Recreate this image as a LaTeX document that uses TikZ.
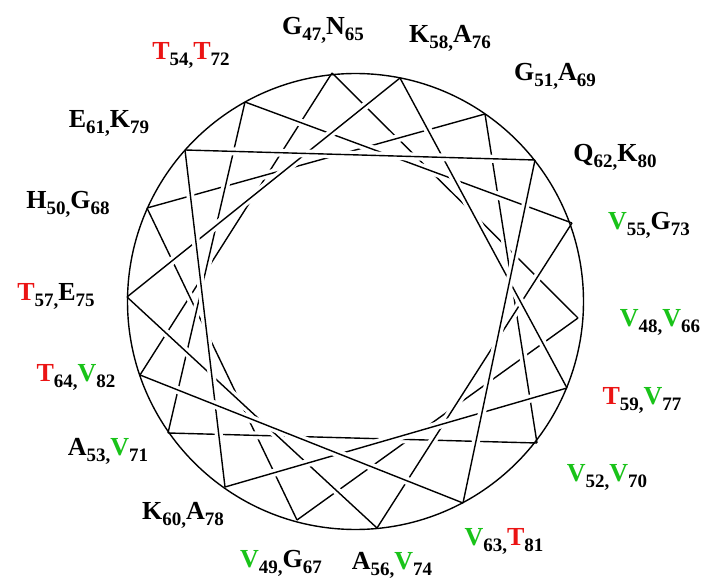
\documentclass[tikz,border=0pt]{standalone}
\usepackage{fontspec}
\setmainfont{Liberation Serif}
\usetikzlibrary{calc}
\definecolor{wred}{RGB}{235,20,20}
\definecolor{wgreen}{RGB}{25,195,25}
\newcommand{\rsd}[2]{#1\raisebox{-6pt}{\fontsize{19}{19}\selectfont #2}}
\newcommand{\Rd}[1]{\textcolor{wred}{#1}}
\newcommand{\Gr}[1]{\textcolor{wgreen}{#1}}
\tikzset{
  chord/.style={black, line width=1.4pt},
  halo/.style={white, line width=8pt},
  rim/.style={black, line width=1.4pt},
  lab/.style={inner sep=0pt, font=\fontsize{26}{26}\selectfont\bfseries}
}
\begin{document}
\begin{tikzpicture}[x=1pt,y=-1pt]
\useasboundingbox (0,0) rectangle (710,580);
\fill[white] (0,0) rectangle (710,580);
% wheel vertices
\coordinate (c) at (355.5,301.5);
\coordinate (p0) at (332,73);
\coordinate (p1) at (400,78);
\coordinate (p2) at (485,114);
\coordinate (p3) at (535,160);
\coordinate (p4) at (572,223);
\coordinate (p5) at (578,318);
\coordinate (p6) at (567,388);
\coordinate (p7) at (537,443);
\coordinate (p8) at (463,503);
\coordinate (p9) at (377,528);
\coordinate (p10) at (297,520);
\coordinate (p11) at (225,487);
\coordinate (p12) at (168,433);
\coordinate (p13) at (140,375);
\coordinate (p14) at (127,297);
\coordinate (p15) at (147,208);
\coordinate (p16) at (185,150);
\coordinate (p17) at (245,102);
% chords, later ones passing over earlier ones
\foreach \i/\j in {13/0,0/5,5/10,10/15,15/2,2/7,7/12,12/17,17/4,4/9,9/14,14/1,1/6,6/11,11/16,16/3,3/8,8/13}{
  \draw[halo] ($(p\i)!11pt!(p\j)$) -- ($(p\j)!11pt!(p\i)$);
  \draw[chord] (p\i) -- (p\j);
}
\draw[rim] (c) circle[radius=228pt];
% labels
\node[lab] (l47) at (323,30) {\rsd{G}{47,}\rsd{N}{65}};
\node[lab] (l58) at (450,38) {\rsd{K}{58,}\rsd{A}{76}};
\node[lab] (l54) at (191,55) {\rsd{\Rd{T}}{54,}\rsd{\Rd{T}}{72}};
\node[lab] (l51) at (555,76) {\rsd{G}{51,}\rsd{A}{69}};
\node[lab] (l61) at (109,123) {\rsd{E}{61,}\rsd{K}{79}};
\node[lab] (l62) at (615,157) {\rsd{Q}{62,}\rsd{K}{80}};
\node[lab] (l50) at (68,204) {\rsd{H}{50,}\rsd{G}{68}};
\node[lab] (l55) at (649,225) {\rsd{\Gr{V}}{55,}\rsd{G}{73}};
\node[lab] (l57) at (56,296) {\rsd{\Rd{T}}{57,}\rsd{E}{75}};
\node[lab] (l48) at (660,322) {\rsd{\Gr{V}}{48,}\rsd{\Gr{V}}{66}};
\node[lab] (l64) at (76,377) {\rsd{\Rd{T}}{64,}\rsd{\Gr{V}}{82}};
\node[lab] (l59) at (642,400) {\rsd{\Rd{T}}{59,}\rsd{\Gr{V}}{77}};
\node[lab] (l53) at (108,451) {\rsd{A}{53,}\rsd{\Gr{V}}{71}};
\node[lab] (l52) at (607,477) {\rsd{\Gr{V}}{52,}\rsd{\Gr{V}}{70}};
\node[lab] (l60) at (183,515) {\rsd{K}{60,}\rsd{A}{78}};
\node[lab] (l63) at (504,541) {\rsd{\Gr{V}}{63,}\rsd{\Rd{T}}{81}};
\node[lab] (l49) at (281,563) {\rsd{\Gr{V}}{49,}\rsd{G}{67}};
\node[lab] (l56) at (392,565) {\rsd{A}{56,}\rsd{\Gr{V}}{74}};
\end{tikzpicture}
\end{document}
